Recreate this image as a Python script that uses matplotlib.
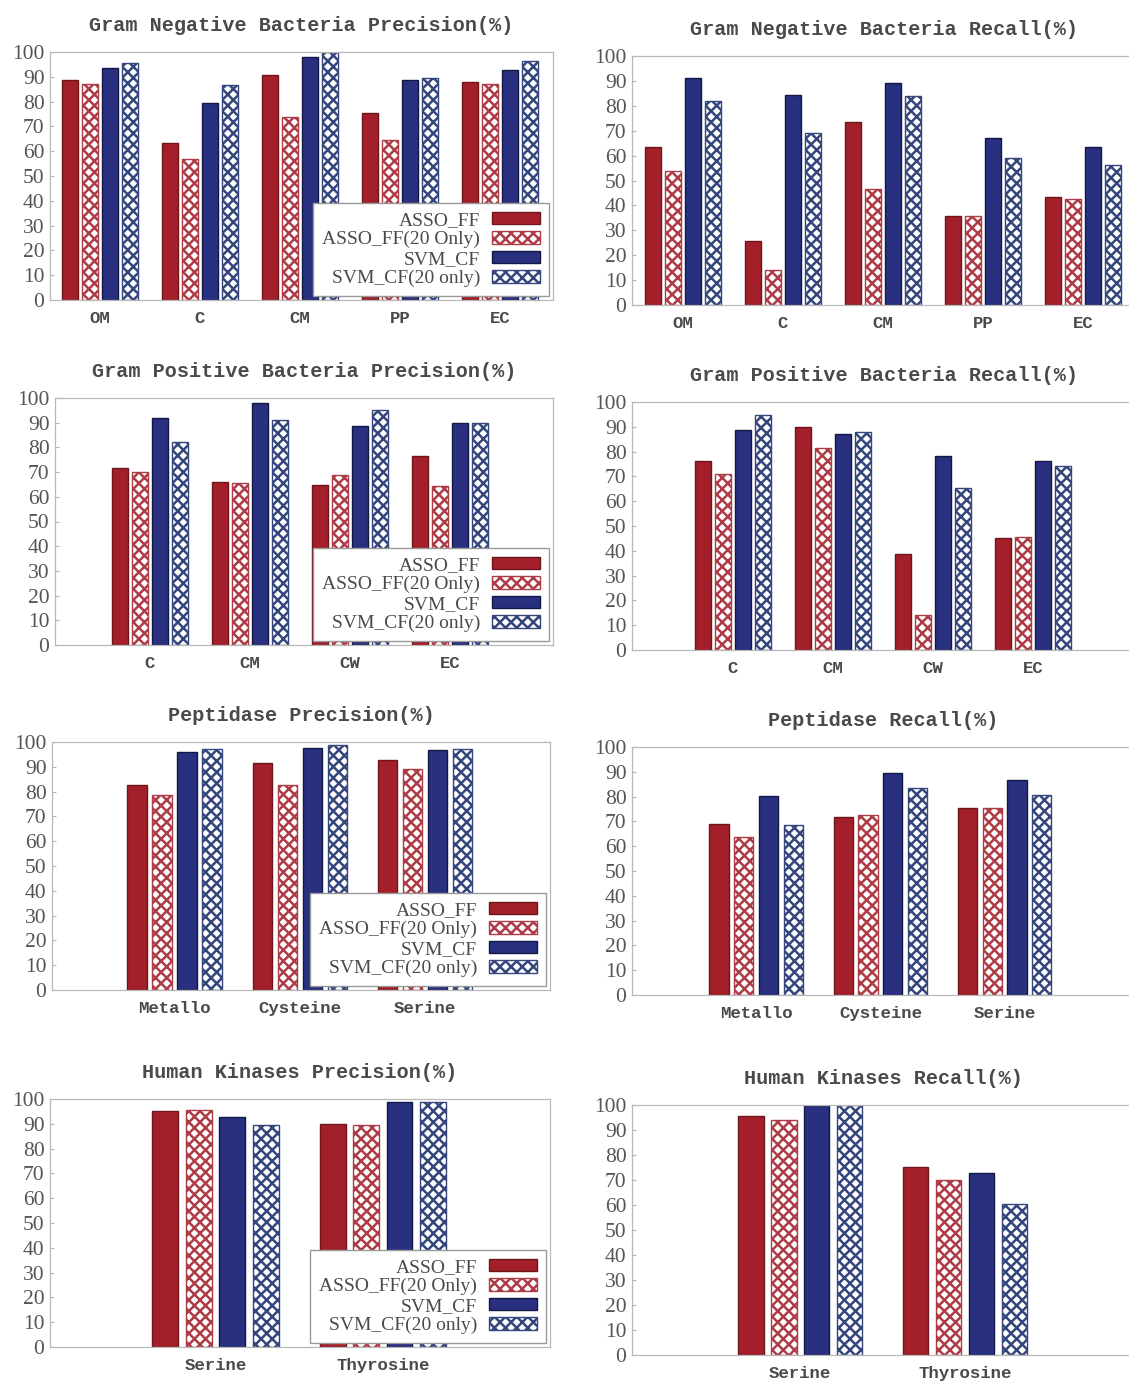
"""Precision / recall of the four classifiers on the four protein data sets.

Eight grouped bar panels in a 4x2 grid: precision on the left, recall on the
right. Each group holds ASSO_FF, ASSO_FF restricted to 20 features, SVM_CF and
SVM_CF restricted to 20 features.
"""
import matplotlib.pyplot as plt
import numpy as np

# --- Data (percent) -----------------------------------------------------------
SERIES = ["ASSO_FF", "ASSO_FF(20 Only)", "SVM_CF", "SVM_CF(20 only)"]

GN_CATS = ["OM", "C", "CM", "PP", "EC"]
GN_PREC_ASSO = [88.8, 63.2, 90.7, 75.4, 88.0]
GN_PREC_ASSO20 = [86.9, 56.8, 73.6, 64.6, 86.9]
GN_PREC_SVM = [93.6, 79.3, 98.0, 88.8, 92.8]
GN_PREC_SVM20 = [95.7, 86.6, 100.0, 89.6, 96.2]
GN_REC_ASSO = [63.6, 25.9, 73.4, 35.8, 43.2]
GN_REC_ASSO20 = [54.0, 14.1, 46.7, 35.8, 42.7]
GN_REC_SVM = [91.0, 84.2, 89.3, 67.2, 63.5]
GN_REC_SVM20 = [82.0, 69.1, 83.9, 58.9, 56.1]

GP_CATS = ["C", "CM", "CW", "EC"]
GP_PREC_ASSO = [71.7, 66.0, 64.6, 76.6]
GP_PREC_ASSO20 = [70.1, 65.7, 69.0, 64.4]
GP_PREC_SVM = [92.1, 98.0, 88.7, 89.9]
GP_PREC_SVM20 = [82.3, 90.9, 95.2, 89.7]
GP_REC_ASSO = [76.1, 90.0, 38.8, 45.1]
GP_REC_ASSO20 = [71.0, 81.4, 14.2, 45.4]
GP_REC_SVM = [88.7, 87.2, 78.2, 76.3]
GP_REC_SVM20 = [94.9, 88.0, 65.2, 74.1]

PEP_CATS = ["Metallo", "Cysteine", "Serine"]
PEP_PREC_ASSO = [82.8, 91.6, 92.7]
PEP_PREC_ASSO20 = [78.8, 82.7, 89.3]
PEP_PREC_SVM = [95.9, 97.4, 96.9]
PEP_PREC_SVM20 = [97.0, 98.6, 97.3]
PEP_REC_ASSO = [68.8, 71.6, 75.6]
PEP_REC_ASSO20 = [63.8, 72.5, 75.6]
PEP_REC_SVM = [80.3, 89.6, 86.5]
PEP_REC_SVM20 = [68.5, 83.3, 80.6]

HK_CATS = ["Serine", "Thyrosine"]
HK_PREC_ASSO = [95.3, 90.1]
HK_PREC_ASSO20 = [95.7, 89.5]
HK_PREC_SVM = [92.8, 98.6]
HK_PREC_SVM20 = [89.5, 98.6]
HK_REC_ASSO = [95.7, 75.1]
HK_REC_ASSO20 = [93.9, 70.0]
HK_REC_SVM = [100.0, 72.7]
HK_REC_SVM20 = [100.0, 60.3]

# --- Style --------------------------------------------------------------------
# (face, edge/hatch colour, hatch) for each series
STYLES = [
    ("#a3202a", "#6e151b", None),
    ("white", "#ad3c47", "xxx"),
    ("#28307f", "#121845", None),
    ("white", "#34467c", "xxx"),
]
MONO = "Liberation Mono"
SERIF = "Liberation Serif"
TEXT = "#4a4a4a"
FRAME = "#b8b8b8"

plt.rcParams["hatch.linewidth"] = 1.8

# panel: (title, categories, series lists, axes rect in px [l, top, r, bottom],
#         x limits, legend?)
PANELS = [
    ("Gram Negative Bacteria Precision(%)", GN_CATS,
     [GN_PREC_ASSO, GN_PREC_ASSO20, GN_PREC_SVM, GN_PREC_SVM20],
     (50, 52, 553, 300), (-0.5, 4.53), True),
    ("Gram Negative Bacteria Recall(%)", GN_CATS,
     [GN_REC_ASSO, GN_REC_ASSO20, GN_REC_SVM, GN_REC_SVM20],
     (632, 56, 1135, 305), (-0.51, 4.52), False),
    ("Gram Positive Bacteria Precision(%)", GP_CATS,
     [GP_PREC_ASSO, GP_PREC_ASSO20, GP_PREC_SVM, GP_PREC_SVM20],
     (55, 398, 553, 645), (-0.95, 4.03), True),
    ("Gram Positive Bacteria Recall(%)", GP_CATS,
     [GP_REC_ASSO, GP_REC_ASSO20, GP_REC_SVM, GP_REC_SVM20],
     (632, 402, 1135, 650), (-1.01, 4.02), False),
    ("Peptidase Precision(%)", PEP_CATS,
     [PEP_PREC_ASSO, PEP_PREC_ASSO20, PEP_PREC_SVM, PEP_PREC_SVM20],
     (52, 742, 550, 990), (-0.98, 3.0), True),
    ("Peptidase Recall(%)", PEP_CATS,
     [PEP_REC_ASSO, PEP_REC_ASSO20, PEP_REC_SVM, PEP_REC_SVM20],
     (632, 747, 1135, 995), (-1.0, 3.05), False),
    ("Human Kinases Precision(%)", HK_CATS,
     [HK_PREC_ASSO, HK_PREC_ASSO20, HK_PREC_SVM, HK_PREC_SVM20],
     (50, 1099, 550, 1347), (-0.99, 2.0), True),
    ("Human Kinases Recall(%)", HK_CATS,
     [HK_REC_ASSO, HK_REC_ASSO20, HK_REC_SVM, HK_REC_SVM20],
     (632, 1105, 1135, 1355), (-1.02, 2.03), False),
]

W, H = 1129, 1386
fig = plt.figure(figsize=(W / 100, H / 100), dpi=100)

offsets = [-0.3, -0.1, 0.1, 0.3]
bar_w = 0.155

for title, cats, series, (l, t, r, b), xlim, with_legend in PANELS:
    ax = fig.add_axes([l / W, 1 - b / H, (r - l) / W, (b - t) / H])
    x = np.arange(len(cats))
    for vals, off, name, (face, edge, hatch) in zip(series, offsets, SERIES, STYLES):
        ax.bar(x + off, vals, width=bar_w, color=face, edgecolor=edge,
               hatch=hatch, linewidth=1.0, label=name, zorder=2)
    ax.set_xlim(*xlim)
    ax.set_ylim(0, 100)
    ax.set_yticks(range(0, 101, 10))
    ax.set_xticks(x)
    ax.set_xticklabels(cats, fontfamily=MONO, fontsize=12.5, fontweight="bold",
                       color=TEXT)
    for lab in ax.get_yticklabels():
        lab.set_fontfamily(SERIF)
        lab.set_fontsize(15.5)
        lab.set_color("#555555")
    ax.tick_params(axis="x", length=0, pad=8)
    ax.tick_params(axis="y", length=3, direction="in", color=FRAME, pad=4)
    for s in ax.spines.values():
        s.set_color(FRAME)
        s.set_linewidth(0.9)
    ax.set_title(title, fontfamily=MONO, fontsize=14.5, fontweight="bold",
                 color=TEXT, pad=15)
    if with_legend:
        leg = ax.legend(loc="lower right", prop={"family": SERIF, "size": 14},
                        markerfirst=False, frameon=True, fancybox=False,
                        framealpha=1, edgecolor="#999999", borderaxespad=0.2,
                        handlelength=2.5, handleheight=0.6, labelspacing=0.12,
                        handletextpad=0.6, borderpad=0.45)
        for txt in leg.get_texts():
            txt.set_color(TEXT)
        leg.set_zorder(5)

fig.savefig("out.png", dpi=100, facecolor="white")
